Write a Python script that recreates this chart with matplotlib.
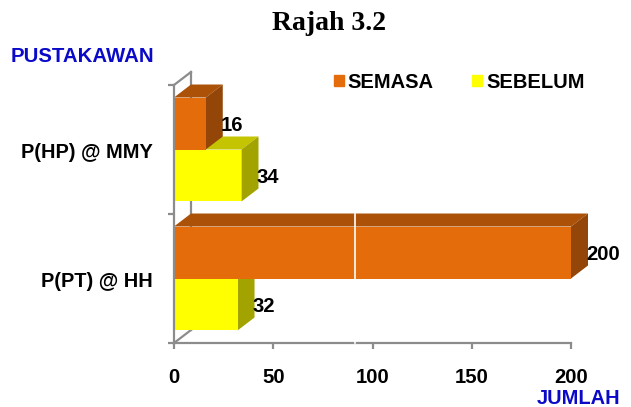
import matplotlib
matplotlib.use("Agg")
import matplotlib.pyplot as plt
from matplotlib.patches import Patch, Polygon

categories = ["P(PT) @ HH", "P(HP) @ MMY"]
semasa = [200, 16]
sebelum = [32, 34]
x_ticks = [0, 50, 100, 150, 200]

W, H = 631, 407
ORANGE = ("#E46C0A", "#AB5208", "#934607")
YELLOW = ("#FFFF00", "#C4C400", "#A3A300")
GRID = "#8C8C8C"
BLUE = "#0A0AC8"

plt.rcParams["font.family"] = ["Liberation Sans", "DejaVu Sans"]
plt.rcParams["font.weight"] = "bold"

fig = plt.figure(figsize=(W / 100, H / 100), dpi=100)
ax = fig.add_axes([174 / W, 1 - 343 / H, (571 - 174) / W, (343 - 85) / H])
ax.set_xlim(0, 200)
ax.set_ylim(0, 2)

# depth of the fake 3d, in data units
dx = 17 / 397 * 200
dy = 13 / 129
bar_h = 0.403


def bar3d(value, y0, colors):
    y1 = y0 + bar_h
    ax.add_patch(Polygon([(0, y1), (dx, y1 + dy), (value + dx, y1 + dy), (value, y1)],
                         fc=colors[1], ec="none", clip_on=False, zorder=3))
    ax.add_patch(Polygon([(value, y0), (value + dx, y0 + dy), (value + dx, y1 + dy), (value, y1)],
                         fc=colors[2], ec="none", clip_on=False, zorder=3))
    ax.barh(y0, value, height=bar_h, align="edge", color=colors[0], zorder=4)


# walls first
ax.plot([dx, dx], [0.1, 2.1], color=GRID, lw=1.6, clip_on=False, zorder=1)
ax.plot([0, dx], [0, dy], color=GRID, lw=1.6, clip_on=False, zorder=1)
ax.plot([0, dx], [2, 2 + dy], color=GRID, lw=1.6, clip_on=False, zorder=1)

for i in [1, 0]:
    bar3d(sebelum[i], i + 0.5 - bar_h, YELLOW)
    bar3d(semasa[i], i + 0.5, ORANGE)
    ax.text(semasa[i] + dx * 0.9, i + 0.5 + bar_h / 2 - 0.012, str(semasa[i]),
            fontsize=14.6, va="center", ha="left", zorder=6)
    ax.text(sebelum[i] + dx * 0.9, i + 0.5 - bar_h / 2 - 0.012, str(sebelum[i]),
            fontsize=14.6, va="center", ha="left", zorder=6)

ax.axvline(91.2, ymin=0, ymax=0.5, color="white", lw=1.2, zorder=7, clip_on=False)

for side in ["top", "right"]:
    ax.spines[side].set_visible(False)
for side in ["left", "bottom"]:
    ax.spines[side].set_color(GRID)
    ax.spines[side].set_linewidth(1.6)
    ax.spines[side].set_zorder(5)

ax.set_xticks(x_ticks)
ax.set_yticks([0, 1, 2])
ax.set_yticklabels([])
ax.tick_params(axis="both", color=GRID, width=1.6, length=4.5)
ax.tick_params(axis="x", labelsize=14.6, pad=13.5)
for i, name in enumerate(categories):
    ax.text(-0.054, (i + 0.5) / 2 - 0.01, name, transform=ax.transAxes, ha="right", va="center", fontsize=14.4)

handles = [Patch(color=ORANGE[0], label="SEMASA"), Patch(color=YELLOW[0], label="SEBELUM")]
fig.legend(handles=handles, ncol=2, frameon=False, fontsize=14.5,
           loc="center left", bbox_to_anchor=(315.5 / W, 1 - 82 / H),
           handlelength=0.5, handleheight=0.5, handletextpad=0.2, columnspacing=1.9)

fig.text(329 / W, 1 - 24 / H, "Rajah 3.2", family="Liberation Serif", fontsize=20,
         fontweight="bold", ha="center", va="center")
fig.text(82.5 / W, 1 - 56 / H, "PUSTAKAWAN", color=BLUE, fontsize=14.7, ha="center", va="center")
fig.text(579 / W, 1 - 398 / H, "JUMLAH", color=BLUE, fontsize=14.4, ha="center", va="center")

fig.savefig("out.png", dpi=100)
